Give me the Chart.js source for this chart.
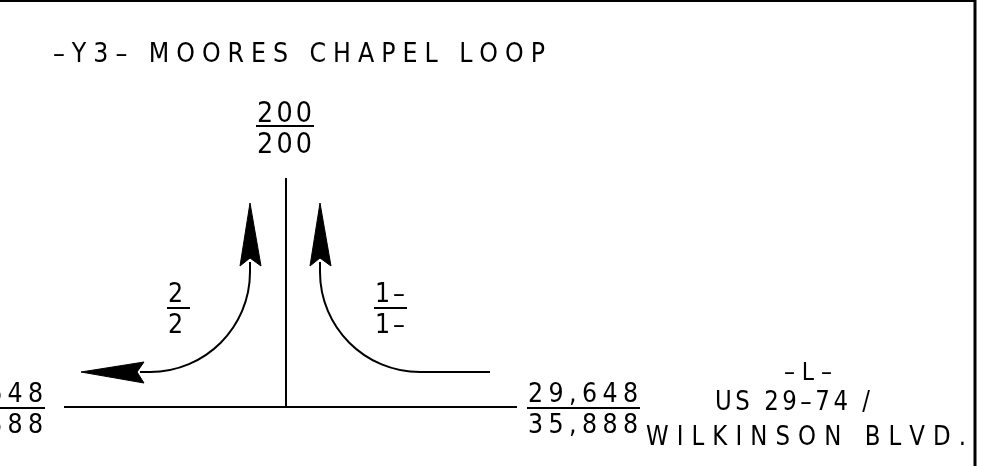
<!DOCTYPE html>
<html>
<head>
<meta charset="utf-8">
<script src="https://cdn.jsdelivr.net/npm/chart.js@4.4.1/dist/chart.umd.min.js"></script>
<style>
  html, body { margin: 0; padding: 0; background: #fff; }
  canvas { display: block; }
</style>
</head>
<body>
<canvas id="app" width="982" height="466"></canvas>
<script>
// road names
const sideRoadName = '–Y3– MOORES CHAPEL LOOP';
const mainRoadName = ['–L–', 'US 29–74 /', 'WILKINSON BLVD.'];

// leg volumes, top / bottom of each fraction (north leg, west leg, east leg)
const legTop = ['200', '29,648', '29,648'];
const legBottom = ['200', '35,888', '35,888'];

// turning volumes (left turn west->north, right turn east->north)
const turnTop = ['2', '1–'];
const turnBottom = ['2', '1–'];

// ---- layout (pixel space of the 982x466 sheet) ----
const FONT = "'DejaVu Sans', sans-serif";
const CAP = 0.73;     // cap height / font size
const SQUEEZE = 0.88; // horizontal glyph scale

// [x0, x1, topBaseline, bottomBaseline, barY, capPx]
const legSlots = [
  [257, 312, 122, 153, 126, 21],
  [-67, 43, 402, 433, 408, 20],
  [528, 638, 402, 433, 408, 20]
];
const turnSlots = [
  [168, 188, 302, 333, 308, 20],
  [375, 405, 302, 333, 308, 20]
];
// [x0, x1, baseline, capPx]
const sideNameSlot = [53, 545, 62, 20];
const mainNameSlots = [
  [784, 832, 380, 18],
  [715, 870, 410, 19],
  [646, 966, 445, 19]
];

const line = (pts, w = 2) => ({
  data: pts.map(p => ({ x: p[0], y: p[1] })),
  borderColor: '#000', borderWidth: w, pointRadius: 0, fill: false
});
const head = pts => ({
  data: pts.concat([pts[0]]).map(p => ({ x: p[0], y: p[1] })),
  borderColor: '#000', backgroundColor: '#000', borderWidth: 1, pointRadius: 0, fill: 'shape'
});

const datasets = [
  line([[0, 1], [975, 1]], 2),
  line([[975, 0], [975, 466]], 3),
  line([[64, 407], [517, 407]]),      // main road
  line([[286, 178], [286, 407]]),     // side road
  line([[425, 372], [490, 372]]),     // right turn tail
  head([[250, 203], [240, 266], [250, 258], [261, 266]]),
  head([[320, 203], [310, 266], [320, 258], [331, 266]]),
  head([[81, 372], [144, 362], [137, 372], [144, 383]])
];
legSlots.concat(turnSlots).forEach(s => {
  datasets.push(line([[s[0] - 1, s[4]], [s[1] + 2, s[4]]], 2));
});

// quarter-circle turn paths: [startX, startY, endX, endY] (vertical start, horizontal end)
const turnArcs = [
  [250, 262, 140, 372],
  [320, 262, 425, 372]
];
const arcRadius = 100;

const turnsPlugin = {
  id: 'turns',
  afterDatasetsDraw(chart) {
    const { ctx, scales: { x, y } } = chart;
    ctx.save();
    ctx.strokeStyle = '#000';
    ctx.lineWidth = 2;
    turnArcs.forEach(a => {
      const dir = a[2] < a[0] ? -1 : 1;
      const r = Math.abs(a[2] - a[0]) > arcRadius ? arcRadius : Math.abs(a[2] - a[0]);
      const sx = a[0], sy0 = a[1], ey = a[3];
      const ay = ey - r, ex = sx + dir * r;
      const k = 0.5523 * r;
      ctx.beginPath();
      ctx.moveTo(x.getPixelForValue(sx), y.getPixelForValue(sy0));
      ctx.lineTo(x.getPixelForValue(sx), y.getPixelForValue(ay));
      ctx.bezierCurveTo(
        x.getPixelForValue(sx), y.getPixelForValue(ay + k),
        x.getPixelForValue(ex - dir * k), y.getPixelForValue(ey),
        x.getPixelForValue(ex), y.getPixelForValue(ey));
      ctx.lineTo(x.getPixelForValue(a[2]), y.getPixelForValue(ey));
      ctx.stroke();
    });
    ctx.restore();
  }
};

// spread the glyphs of a label evenly between x0 and x1
function spread(ctx, text, x0, x1, base, capPx) {
  ctx.font = `${Math.round(capPx / CAP)}px ${FONT}`;
  const chars = Array.from(text);
  const widths = chars.map(c => ctx.measureText(c).width * SQUEEZE);
  const total = widths.reduce((a, b) => a + b, 0);
  const gap = chars.length > 1 ? (x1 - x0 - total) / (chars.length - 1) : 0;
  let cx = x0;
  chars.forEach((c, i) => {
    ctx.save();
    ctx.translate(cx, base);
    ctx.scale(SQUEEZE, 1);
    ctx.fillText(c, 0, 0);
    ctx.restore();
    cx += widths[i] + gap;
  });
}

const labelsPlugin = {
  id: 'labels',
  afterDraw(chart) {
    const { ctx, scales: { x, y } } = chart;
    const px = v => x.getPixelForValue(v), py = v => y.getPixelForValue(v);
    ctx.save();
    ctx.fillStyle = '#000';
    ctx.textBaseline = 'alphabetic';
    ctx.textAlign = 'left';
    const s = sideNameSlot;
    spread(ctx, sideRoadName, px(s[0]), px(s[1]), py(s[2]), s[3]);
    mainRoadName.forEach((t, i) => {
      const m = mainNameSlots[i];
      spread(ctx, t, px(m[0]), px(m[1]), py(m[2]), m[3]);
    });
    legTop.forEach((t, i) => {
      const l = legSlots[i];
      spread(ctx, t, px(l[0]), px(l[1]), py(l[2]), l[5]);
      spread(ctx, legBottom[i], px(l[0]), px(l[1]), py(l[3]), l[5]);
    });
    turnTop.forEach((t, i) => {
      const l = turnSlots[i];
      spread(ctx, t, px(l[0]), px(l[1]), py(l[2]), l[5]);
      spread(ctx, turnBottom[i], px(l[0]), px(l[1]), py(l[3]), l[5]);
    });
    ctx.restore();
  }
};

new Chart(document.getElementById('app'), {
  type: 'line',
  data: { datasets },
  options: {
    responsive: false,
    animation: false,
    devicePixelRatio: 1,
    layout: { padding: 0 },
    plugins: { legend: { display: false }, tooltip: { enabled: false } },
    scales: {
      x: { type: 'linear', min: 0, max: 982, display: false },
      y: { type: 'linear', min: 0, max: 466, reverse: true, display: false }
    }
  },
  plugins: [turnsPlugin, labelsPlugin]
});
</script>
</body>
</html>
